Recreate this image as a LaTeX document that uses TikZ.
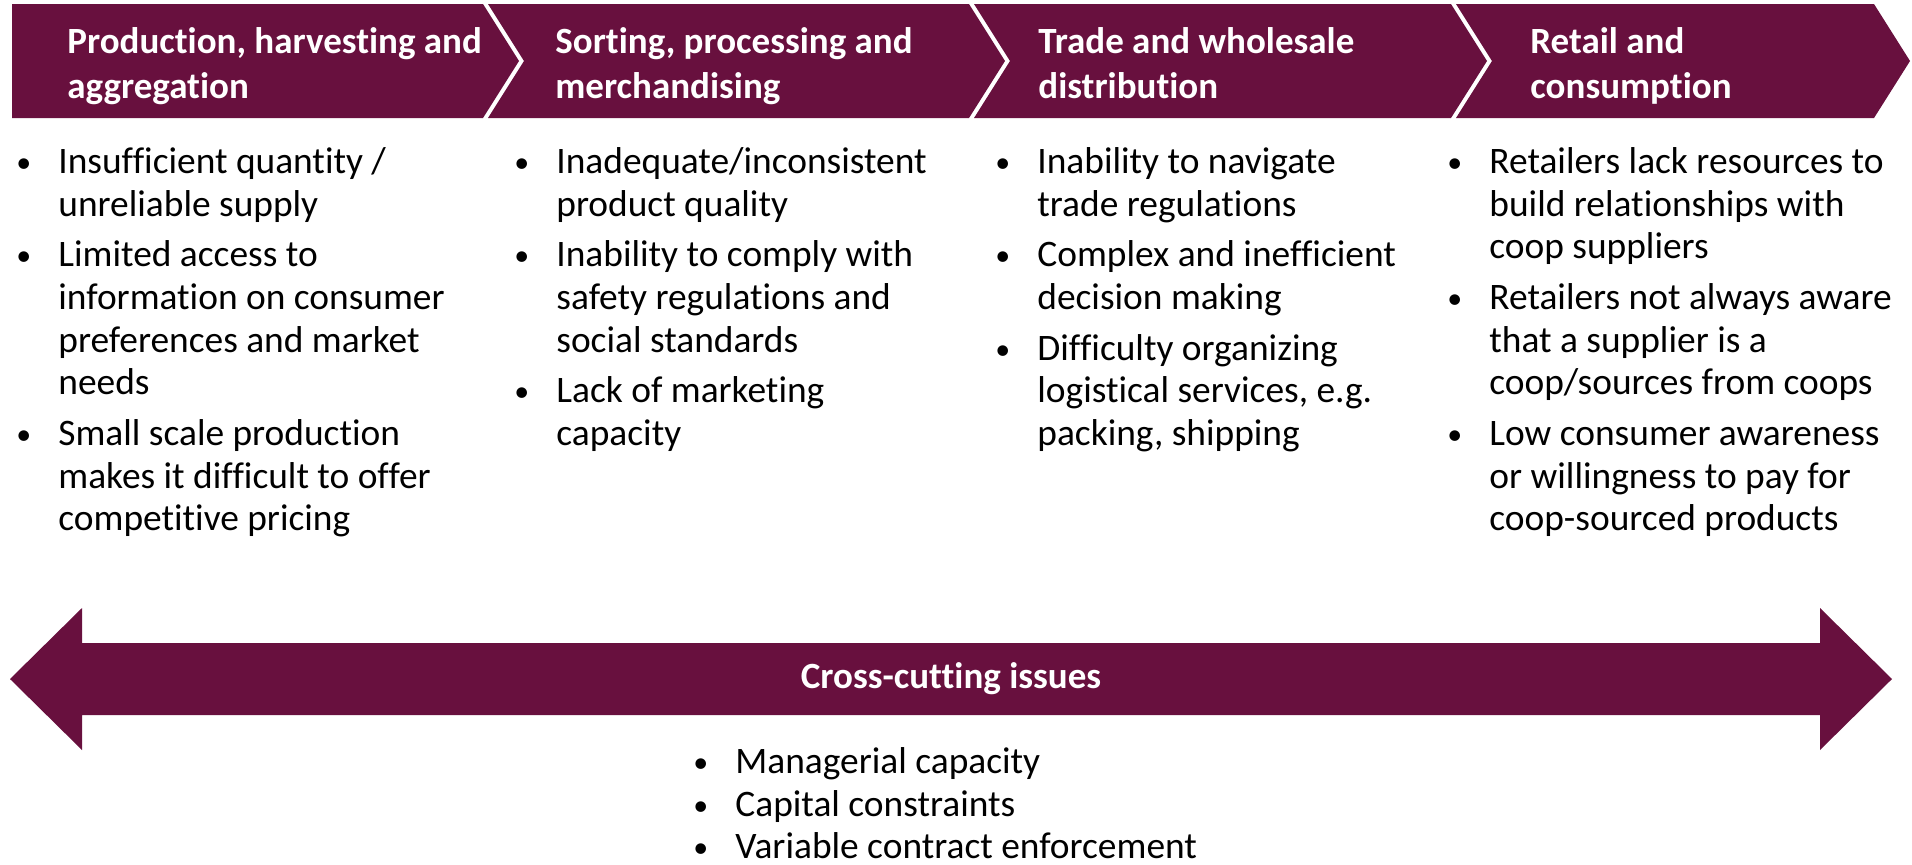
\documentclass[tikz,border=0pt]{standalone}
\usepackage{fontspec}
\setmainfont{Carlito}[Ligatures={NoCommon}]
\definecolor{maroon}{RGB}{104,16,62}
\newcommand{\bi}{\makebox[21pt][l]{\raisebox{0.5pt}{\scalebox{0.8}{\textbullet}}}}
\newcommand{\ci}{\hspace*{21pt}}
\begin{document}
\begin{tikzpicture}[x=0.5pt,y=-0.5pt,
  band/.style={fill=maroon,draw=none},
  head/.style={text=white,font=\fontsize{18.5}{22.5}\selectfont\bfseries,align=left,anchor=north west,inner sep=0pt},
  body/.style={text=black,font=\fontsize{18.7}{21.35}\selectfont,align=left,anchor=north west,inner sep=0pt}]
\useasboundingbox (0,0) rectangle (1912,864);
% chevrons
\fill[band] (12,4) -- (483,4) -- (519,61) -- (483,118) -- (12,118) -- cycle;
\fill[band] (488,4) -- (969,4) -- (1005,61) -- (969,118) -- (488,118) -- (524,61) -- cycle;
\fill[band] (974,4) -- (1451,4) -- (1487,61) -- (1451,118) -- (974,118) -- (1010,61) -- cycle;
\fill[band] (1456,4) -- (1874,4) -- (1910,61) -- (1874,118) -- (1456,118) -- (1492,61) -- cycle;
% headers
\node[head] (h1) at (67,27) {Production, harvesting and\\aggregation};
\node[head] (h2) at (555,27) {Sorting, processing and\\merchandising};
\node[head] (h3) at (1038,27) {Trade and wholesale\\distribution};
\node[head] (h4) at (1530,27) {Retail and\\consumption};
% columns
\node[body] (c1) at (16,147) {\bi Insufficient quantity /\\\ci unreliable supply\\[4pt]\bi Limited access to\\\ci information on consumer\\\ci preferences and market\\\ci needs\\[4pt]\bi Small scale production\\\ci makes it difficult to offer\\\ci competitive pricing};
\node[body] (c2) at (514,147) {\bi Inadequate/inconsistent\\\ci product quality\\[4pt]\bi Inability to comply with\\\ci safety regulations and\\\ci social standards\\[4pt]\bi Lack of marketing\\\ci capacity};
\node[body] (c3) at (995,147) {\bi Inability to navigate\\\ci trade regulations\\[4pt]\bi Complex and inefficient\\\ci decision making\\[4pt]\bi Difficulty organizing\\\ci logistical services, e.g.\\\ci packing, shipping};
\node[body] (c4) at (1447,147) {\bi Retailers lack resources to\\\ci build relationships with\\\ci coop suppliers\\[4pt]\bi Retailers not always aware\\\ci that a supplier is a\\\ci coop/sources from coops\\[4pt]\bi Low consumer awareness\\\ci or willingness to pay for\\\ci coop-sourced products};
% cross-cutting arrow
\fill[band] (10,679) -- (82,608) -- (82,643) -- (1820,643) -- (1820,608) -- (1892,679) -- (1820,750) -- (1820,715) -- (82,715) -- (82,750) -- cycle;
\node[text=white,font=\fontsize{18.5}{22.5}\selectfont\bfseries,inner sep=0pt] (cc) at (951,679) {Cross-cutting issues};
\node[body] (cl) at (693,747) {\bi Managerial capacity\\\bi Capital constraints\\\bi Variable contract enforcement};
\end{tikzpicture}
\end{document}
